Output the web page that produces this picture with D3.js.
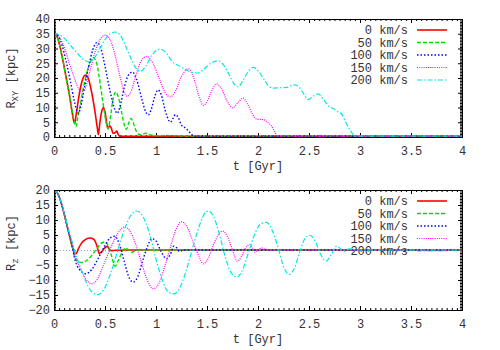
<!DOCTYPE html>
<html>
<head>
<meta charset="utf-8">
<script src="https://cdn.jsdelivr.net/npm/d3@7"></script>
<style>
  body { margin: 0; background: #fff; }
  text { font-family: "Liberation Mono", monospace; }
</style>
</head>
<body>
<svg width="500" height="350"></svg>
<script>
// orbit of a satellite: in-plane radius R_XY and height R_z against time, for 5 kick speeds
const seriesNames = ['0 km/s', '50 km/s', '100 km/s', '150 km/s', '200 km/s'];
const seriesColors = ['#ff0000', '#00e000', '#0000ff', '#ff00ff', '#00e8e8'];
const seriesDash = [null, '4,2', '1.5,2', '1,1.2', '5,2,1.5,2'];
const seriesWidth = [1.6, 1.4, 1.4, 1.2, 1.2];

const xTicks = [0, 0.5, 1, 1.5, 2, 2.5, 3, 3.5, 4];
const xTickLabels = ['0', '0.5', '1', '1.5', '2', '2.5', '3', '3.5', '4'];
const yTicksTop = [0, 5, 10, 15, 20, 25, 30, 35, 40];
const yTicksBottom = [-20, -15, -10, -5, 0, 5, 10, 15, 20];

// [t (Gyr), R_XY (kpc)]
const rxy0 = [[0,35],[0.03,34],[0.06,30.5],[0.09,25.5],[0.12,20],[0.15,14.5],[0.175,9],[0.195,5.2],[0.203,4.6],[0.215,7],
  [0.25,15],[0.28,19.5],[0.31,21],[0.34,19.5],[0.37,15],[0.4,9],[0.425,3],[0.435,0.8],[0.45,5],[0.47,9],
  [0.485,10],[0.5,8.5],[0.52,4],[0.53,2.8],[0.545,3.8],[0.56,3.2],[0.58,1.2],[0.6,1.5],[0.615,2],[0.63,0.8],
  [0.65,0.2],[4,0.2]];
const rxy50 = [[0,35],[0.03,34],[0.06,30.5],[0.09,25.5],[0.12,20],[0.15,14.5],[0.18,8.5],[0.205,4.5],[0.215,3.5],[0.23,6],
  [0.26,11.5],[0.29,17],[0.32,21.5],[0.35,24.8],[0.38,27],[0.41,26],[0.44,21],[0.47,14],[0.5,7],[0.53,2.8],
  [0.55,6],[0.575,12],[0.605,15.3],[0.635,13],[0.665,8],[0.69,4],[0.71,2.6],[0.73,4.5],[0.755,6.3],[0.775,5],
  [0.8,2.5],[0.83,1],[0.86,0.8],[0.9,1.3],[0.94,0.8],[1.0,0.4],[1.1,0.5],[1.3,0.3],[4,0.3]];
const rxy100 = [[0,35],[0.04,34.3],[0.08,31],[0.12,25.5],[0.16,19],[0.2,12],[0.225,8.8],[0.24,8],[0.26,10],[0.3,17],
  [0.34,24],[0.38,29.5],[0.42,32],[0.46,30],[0.5,24],[0.55,15.5],[0.6,9],[0.62,8],[0.645,10],[0.69,17],
  [0.73,21],[0.77,22],[0.81,19.5],[0.86,13],[0.9,8.5],[0.925,7.5],[0.95,9],[0.99,14],[1.02,16],[1.05,14.5],
  [1.09,9],[1.12,6],[1.14,5],[1.17,6.5],[1.19,7.6],[1.22,6.5],[1.25,4],[1.29,3],[1.32,2],[1.35,0.8],
  [1.38,0.3],[4,0.3]];
const rxy150 = [[0,35],[0.05,34],[0.1,30.5],[0.15,25],[0.2,20],[0.24,16.5],[0.275,15.5],[0.31,17],[0.35,22],[0.4,28.5],
  [0.45,33],[0.5,34.5],[0.55,33],[0.6,27.5],[0.65,20],[0.69,15],[0.72,13.8],[0.75,15],[0.8,20.5],[0.85,25.5],
  [0.91,27.3],[0.97,25],[1.03,20],[1.09,15],[1.14,13.6],[1.19,15.5],[1.25,20.5],[1.317,23.1],[1.37,20],[1.42,14],
  [1.464,10.7],[1.5,12],[1.55,16],[1.595,18],[1.64,16.5],[1.7,12],[1.75,9.9],[1.8,11.5],[1.856,13.2],[1.9,11],
  [1.95,7.5],[1.99,6],[2.05,5.9],[2.1,4.8],[2.13,3.8],[2.16,2],[2.19,0.4],[2.25,0.3],[4,0.3]];
const rxy200 = [[0,35],[0.05,34.7],[0.1,33.5],[0.15,31.5],[0.2,29.5],[0.25,27.5],[0.3,26],[0.345,25.5],[0.4,27],[0.45,30],
  [0.5,33],[0.55,35],[0.598,35.6],[0.65,34.5],[0.7,31],[0.75,27],[0.8,23.5],[0.843,22.2],[0.9,24],[0.96,27.8],
  [1.04,29.8],[1.1,28.5],[1.16,25.5],[1.235,24],[1.33,22.2],[1.415,21.7],[1.47,23],[1.53,24.8],[1.61,25.8],[1.66,24.5],
  [1.72,21],[1.77,17.8],[1.807,17],[1.85,19],[1.9,22],[1.954,23.6],[2.0,22.5],[2.06,19.5],[2.11,17],[2.15,16.6],
  [2.22,16.7],[2.28,16.8],[2.33,17.5],[2.363,17.7],[2.4,17],[2.45,14.5],[2.49,12.7],[2.54,13.8],[2.59,14.6],[2.64,12.8],
  [2.69,10.6],[2.74,9.6],[2.79,8.4],[2.82,7.8],[2.86,5],[2.9,2.5],[2.934,0.8],[2.96,0.3],[4,0.3]];

// [t (Gyr), R_z (kpc)]
const rz0 = [[0,20],[0.025,19.5],[0.05,17.8],[0.075,15.2],[0.1,12],[0.125,8.5],[0.15,5],[0.175,1.5],[0.2,-0.8],[0.216,-1.2],
  [0.24,0.5],[0.27,2.3],[0.3,3.3],[0.35,4],[0.39,3.6],[0.42,1.5],[0.444,-1.2],[0.47,-0.5],[0.5,0.8],[0.523,1.2],
  [0.54,0.3],[0.56,-0.2],[0.6,-0.1],[0.7,0],[4,0]];
const rz50 = [[0,20],[0.025,19.5],[0.05,17.8],[0.075,15.2],[0.1,12],[0.125,8.5],[0.15,5],[0.175,1.8],[0.2,-2],[0.23,-3.8],
  [0.27,-4.2],[0.32,-3.5],[0.37,-1.8],[0.42,0.5],[0.46,2.2],[0.5,2.7],[0.53,1.5],[0.56,-1.5],[0.6,-5.4],[0.63,-3.5],
  [0.67,-0.5],[0.706,0.7],[0.73,0],[0.76,-0.8],[0.8,-0.2],[0.85,0],[4,0]];
const rz100 = [[0,20],[0.025,19.5],[0.05,17.8],[0.075,15.2],[0.1,12],[0.125,8.6],[0.15,5.2],[0.175,2],[0.2,-2.5],[0.25,-6.5],
  [0.314,-7.9],[0.37,-6.5],[0.43,-3],[0.5,1.5],[0.55,4],[0.598,4.6],[0.64,2],[0.69,-4],[0.74,-9.5],[0.778,-10.7],
  [0.82,-9],[0.87,-3.5],[0.92,1.5],[0.958,3.8],[1.0,3],[1.05,-0.5],[1.105,-2.9],[1.14,-1.5],[1.176,1.3],[1.2,0.8],
  [1.23,-0.5],[1.27,0],[4,0]];
const rz150 = [[0,20],[0.025,19.5],[0.05,17.8],[0.075,15.3],[0.1,12.2],[0.125,8.8],[0.15,5.5],[0.175,2.5],[0.2,-1],[0.25,-5.5],
  [0.3,-9],[0.369,-11.3],[0.42,-10],[0.48,-5.5],[0.54,-0.5],[0.6,4],[0.65,6.8],[0.696,7.7],[0.74,6.5],[0.8,2],
  [0.86,-4.5],[0.92,-10.5],[0.974,-12.9],[1.03,-11],[1.09,-5],[1.15,2],[1.2,7.2],[1.25,9.4],[1.3,8],[1.36,3],
  [1.42,-2],[1.464,-4.6],[1.5,-3.5],[1.56,1.5],[1.61,5],[1.654,6.3],[1.7,4.5],[1.75,0],[1.797,-3.7],[1.84,-2],
  [1.88,0.8],[1.92,1.8],[1.95,0.5],[1.97,-0.7],[2.0,0],[2.036,0.7],[2.07,0.2],[2.12,0],[4,0]];
const rz200 = [[0,20],[0.025,19.5],[0.05,17.9],[0.075,15.4],[0.1,12.4],[0.125,9],[0.15,5.8],[0.175,3],[0.2,0],[0.25,-5],
  [0.3,-9.5],[0.36,-13.5],[0.425,-14.9],[0.49,-13.1],[0.56,-7.3],[0.63,0.4],[0.7,7.7],[0.76,11.9],[0.81,13],[0.87,11.3],
  [0.94,5],[1.0,-3],[1.06,-9.8],[1.12,-14],[1.176,-14.6],[1.23,-12.8],[1.29,-7.5],[1.35,-0.5],[1.41,6.5],[1.47,11.8],
  [1.513,13],[1.56,11.5],[1.62,5.5],[1.68,-2.5],[1.74,-7.8],[1.797,-9],[1.85,-6.5],[1.91,-0.5],[1.97,5.5],[2.03,8.8],
  [2.085,9.2],[2.14,6.5],[2.2,0.5],[2.25,-5.5],[2.307,-8.1],[2.36,-5.8],[2.41,-0.5],[2.46,3.8],[2.51,4.9],[2.56,3],
  [2.61,-1.2],[2.667,-3.7],[2.72,-1.5],[2.77,1.3],[2.81,0.4],[2.84,-0.5],[2.88,0.3],[2.92,0.4],[2.96,0],[4,0]];

const textColor = '#333';

const svg = d3.select('svg');
svg.append('rect').attr('width', 500).attr('height', 350).attr('fill', '#fff');

const left = 54, right = 462;
const x = d3.scaleLinear().domain([0, 4]).range([left, right]);

function panel(id, top, bottom, yDomain, yTicks, data, subLabel, labelY, zeroLine) {
  const y = d3.scaleLinear().domain(yDomain).range([bottom, top]);
  const g = svg.append('g');

  // minor ticks every 0.05 Gyr and every 0.5 kpc
  const xMinor = d3.range(0, 4.0001, 0.05);
  const yMinor = d3.range(yDomain[0], yDomain[1] + 0.0001, 0.5);

  const styleAxis = a => {
    a.attr('font-family', null).attr('font-size', 12).attr('fill', '#000');
    a.select('.domain').remove();
    a.selectAll('text').attr('fill', textColor);
  };

  g.append('g').attr('transform', `translate(0,${bottom})`)
    .call(d3.axisBottom(x).tickValues(xMinor).tickSize(-2).tickFormat(''))
    .call(styleAxis);
  g.append('g').attr('transform', `translate(0,${top})`)
    .call(d3.axisTop(x).tickValues(xMinor).tickSize(-2).tickFormat(''))
    .call(styleAxis);
  g.append('g').attr('transform', `translate(${left},0)`)
    .call(d3.axisLeft(y).tickValues(yMinor).tickSize(-2).tickFormat(''))
    .call(styleAxis);
  g.append('g').attr('transform', `translate(${right},0)`)
    .call(d3.axisRight(y).tickValues(yMinor).tickSize(-2).tickFormat(''))
    .call(styleAxis);

  g.append('g').attr('transform', `translate(0,${bottom})`)
    .call(d3.axisBottom(x).tickValues(xTicks).tickSize(-4).tickPadding(9)
      .tickFormat((d, i) => xTickLabels[i]))
    .call(styleAxis);
  g.append('g').attr('transform', `translate(0,${top})`)
    .call(d3.axisTop(x).tickValues(xTicks).tickSize(-4).tickFormat(''))
    .call(styleAxis);
  g.append('g').attr('transform', `translate(${left},0)`)
    .call(d3.axisLeft(y).tickValues(yTicks).tickSize(-4).tickPadding(4))
    .call(styleAxis);
  g.append('g').attr('transform', `translate(${right},0)`)
    .call(d3.axisRight(y).tickValues(yTicks).tickSize(-4).tickFormat(''))
    .call(styleAxis);

  if (zeroLine) {
    g.append('line')
      .attr('x1', left).attr('x2', right)
      .attr('y1', y(0) + 0.5).attr('y2', y(0) + 0.5)
      .attr('stroke', '#a0a0a0').attr('stroke-dasharray', '1,2');
  }

  // key
  const key = g.append('g');
  seriesNames.forEach((name, i) => {
    const ky = top + 11 + i * 12.5;
    key.append('text')
      .attr('x', 408).attr('y', ky).attr('dy', '0.35em')
      .attr('text-anchor', 'end').attr('font-size', 12).attr('fill', textColor)
      .text(name);
    key.append('line')
      .attr('x1', 417).attr('x2', 447).attr('y1', ky).attr('y2', ky)
      .attr('stroke', seriesColors[i]).attr('stroke-width', seriesWidth[i])
      .attr('stroke-dasharray', seriesDash[i]);
  });

  svg.append('clipPath').attr('id', id)
    .append('rect').attr('x', left).attr('y', top)
    .attr('width', right - left).attr('height', bottom - top);

  const line = d3.line()
    .x(d => x(d[0])).y(d => y(d[1]))
    .curve(d3.curveMonotoneX);

  g.append('g').attr('clip-path', `url(#${id})`)
    .selectAll('path').data(data).join('path')
      .attr('d', line)
      .attr('fill', 'none')
      .attr('stroke', (d, i) => seriesColors[i])
      .attr('stroke-width', (d, i) => seriesWidth[i])
      .attr('stroke-dasharray', (d, i) => seriesDash[i]);

  // border
  g.append('rect')
    .attr('x', left + 0.5).attr('y', top + 0.5)
    .attr('width', right - left).attr('height', bottom - top)
    .attr('fill', 'none').attr('stroke', '#000');

  g.append('text')
    .attr('x', (left + right) / 2).attr('y', bottom + 33)
    .attr('text-anchor', 'middle').attr('font-size', 12).attr('fill', textColor)
    .text('t [Gyr]');

  const yl = g.append('text')
    .attr('transform', `translate(15,${labelY}) rotate(-90)`)
    .attr('text-anchor', 'middle').attr('font-size', 12).attr('fill', textColor);
  yl.append('tspan').text('R');
  yl.append('tspan').attr('font-size', 9).attr('dy', 3).text(subLabel);
  yl.append('tspan').attr('dy', -3).text(' [kpc]');
}

panel('clipTop', 19, 137, [0, 40], yTicksTop, [rxy0, rxy50, rxy100, rxy150, rxy200], 'XY', 78, false);
panel('clipBottom', 190, 310, [-20, 20], yTicksBottom, [rz0, rz50, rz100, rz150, rz200], 'z', 243, true);
</script>
</body>
</html>
